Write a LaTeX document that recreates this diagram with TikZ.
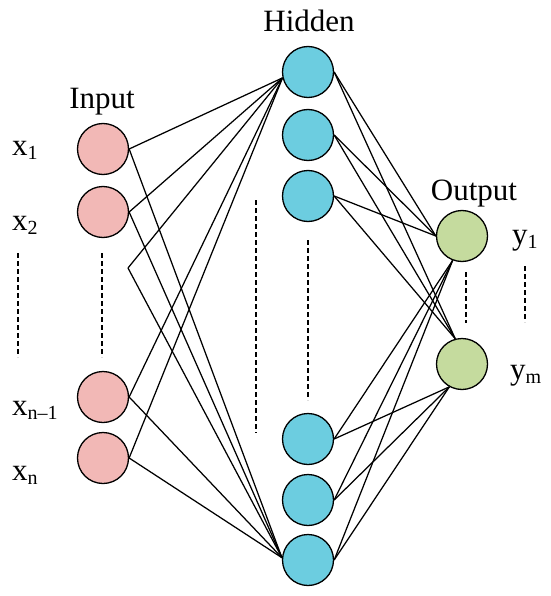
\documentclass[tikz,border=0pt]{standalone}
\usepackage{fontspec}
\setmainfont{Liberation Serif}
\definecolor{inpink}{RGB}{242,184,182}
\definecolor{hidblue}{RGB}{108,205,224}
\definecolor{outgreen}{RGB}{197,219,158}
\newcommand{\lsub}[1]{\raisebox{-4pt}{\fontsize{20}{20}\selectfont #1}}
\begin{document}
\begin{tikzpicture}[x=1pt,y=-1pt,
  neuron/.style={circle,draw=black,line width=1.3pt,minimum size=51pt,inner sep=0pt},
  inp/.style={neuron,fill=inpink},
  hid/.style={neuron,fill=hidblue},
  outn/.style={neuron,fill=outgreen},
  link/.style={line width=1.25pt},
  dotline/.style={line width=1.6pt,dash pattern=on 5pt off 3pt},
  lbl/.style={anchor=base west,inner sep=0pt,font=\fontsize{31}{36}\selectfont},
  head/.style={anchor=base,inner sep=0pt,font=\fontsize{31}{36}\selectfont}]
\useasboundingbox (0,0) rectangle (550,596);
% nodes
\node[inp] (i1) at (103,149) {};
\node[inp] (i2) at (103,212) {};
\node[inp] (i3) at (103,397) {};
\node[inp] (i4) at (103,458) {};
\coordinate (iv) at (128,268);
\node[hid] (h1) at (308,72) {};
\node[hid] (h2) at (308,135) {};
\node[hid] (h3) at (308,196) {};
\node[hid] (h4) at (308,439) {};
\node[hid] (h5) at (308,500) {};
\node[hid] (h6) at (308,560) {};
\node[outn] (o1) at (462,236) {};
\node[outn] (o2) at (462,364) {};
% input -> hidden
\foreach \s in {i1.east,i2.east,iv,i3.east,i4.east}{
  \draw[link] (\s) -- (h1.193);
  \draw[link] (\s) -- (h6.175);
}
% hidden -> output
\foreach \h in {h1,h2,h3}{
  \draw[link] (\h.east) -- (o1.180);
  \draw[link] (\h.east) -- (o2.105);
}
\foreach \h in {h4,h5,h6}{
  \draw[link] (\h.east) -- (o1.249);
  \draw[link] (\h.east) -- (o2.241);
}
% dashed ellipses
\draw[dotline] (18,253) -- (18,357);
\draw[dotline] (102,253) -- (102,357);
\draw[dotline] (256,200) -- (256,433);
\draw[dotline] (308,240) -- (308,400);
\draw[dotline] (466,272) -- (466,323);
\draw[dotline] (525,266) -- (525,322);
% labels
\node[head] (tin) at (102,109) {Input};
\node[head] (thid) at (309,32) {Hidden};
\node[head] (tout) at (474,200) {Output};
\node[lbl] (lx1) at (12,156) {x\lsub{1}};
\node[lbl] (lx2) at (12,230) {x\lsub{2}};
\node[lbl] (lx3) at (12,415) {x\lsub{n\textendash1}};
\node[lbl] (lx4) at (12,480) {x\lsub{n}};
\node[lbl] (ly1) at (512,244) {y\lsub{1}};
\node[lbl] (ly2) at (510,379) {y\lsub{m}};
\end{tikzpicture}
\end{document}
